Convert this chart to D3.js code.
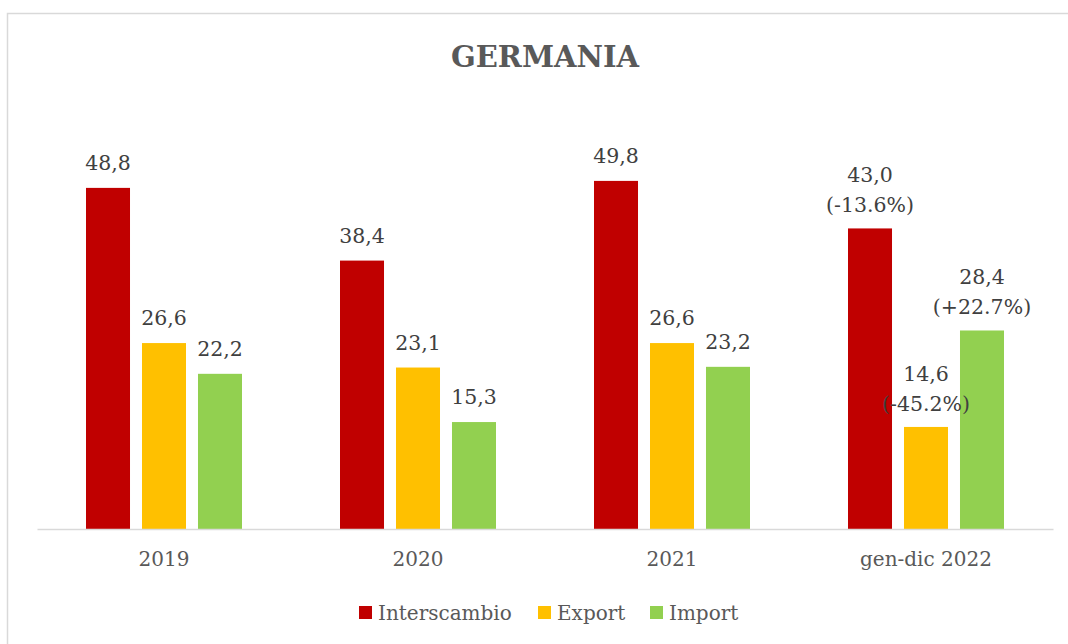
<!DOCTYPE html>
<html>
<head>
<meta charset="utf-8">
<script src="https://cdn.jsdelivr.net/npm/d3@7"></script>
<style>
	body { margin: 0; background: #fff; }
	svg { display: block; font-family: "DejaVu Serif", serif; }
</style>
</head>
<body>
<svg id="chart" width="1068" height="644"></svg>
<script>
// data
const categories = ["2019", "2020", "2021", "gen-dic 2022"];
const series = ["Interscambio", "Export", "Import"];
const interscambio = [48.8, 38.4, 49.8, 43.0];
const exportVals = [26.6, 23.1, 26.6, 14.6];
const importVals = [22.2, 15.3, 23.2, 28.4];
// variations shown only for the last period
const interscambioVar = [null, null, null, "(-13.6%)"];
const exportVar = [null, null, null, "(-45.2%)"];
const importVar = [null, null, null, "(+22.7%)"];
const colors = ["#c00000", "#ffc000", "#92d050"];

const values = [interscambio, exportVals, importVals];
const variations = [interscambioVar, exportVar, importVar];

const svg = d3.select("#chart");
const fmt = (v) => v.toFixed(1).replace(".", ",");

// outer frame (only top/left edges fall inside the picture)
svg.append("rect")
	.attr("x", 7.5).attr("y", 13.5)
	.attr("width", 1100).attr("height", 700)
	.attr("fill", "none").attr("stroke", "#d9d9d9").attr("stroke-width", 1.5);

svg.append("text")
	.attr("x", 545).attr("y", 67)
	.attr("text-anchor", "middle")
	.attr("font-size", 29).attr("font-weight", "bold")
	.attr("fill", "#595959")
	.text("GERMANIA");

const baseY = 529;
const x0 = d3.scaleBand().domain(categories).range([37, 1053]);
const x1 = d3.scaleBand().domain(series).range([-78, 78]).paddingInner(0.214);
const y = d3.scaleLinear().domain([0, 60]).range([baseY, baseY - 60 * 6.99]);

const rows = [];
categories.forEach((c, i) => {
	series.forEach((s, j) => {
		rows.push({ cat: c, ser: s, value: values[j][i], variation: variations[j][i], color: colors[j] });
	});
});

const cx = (d) => x0(d.cat) + x0.bandwidth() / 2 + x1(d.ser);

svg.selectAll(".bar")
	.data(rows)
	.enter()
	.append("rect")
	.classed("bar", true)
	.attr("x", cx)
	.attr("y", (d) => y(d.value))
	.attr("width", x1.bandwidth())
	.attr("height", (d) => baseY - y(d.value))
	.attr("fill", (d) => d.color);

// value labels
const lab = svg.selectAll(".lab")
	.data(rows)
	.enter()
	.append("text")
	.classed("lab", true)
	.attr("text-anchor", "middle")
	.attr("font-size", 20.5)
	.attr("fill", "#404040")
	.attr("x", (d) => cx(d) + x1.bandwidth() / 2)
	.attr("y", (d) => y(d.value) - (d.variation ? 46 : 18));
lab.append("tspan").text((d) => fmt(d.value));
lab.filter((d) => d.variation)
	.append("tspan")
	.attr("x", (d) => cx(d) + x1.bandwidth() / 2)
	.attr("dy", 30)
	.text((d) => d.variation);

// x axis
const xAxis = svg.append("g")
	.attr("transform", `translate(0, ${baseY})`)
	.call(d3.axisBottom(x0).tickSize(0).tickPadding(23));
xAxis.select(".domain").attr("stroke", "#d9d9d9").attr("stroke-width", 1.5);
xAxis.selectAll("text")
	.attr("font-family", "DejaVu Serif, serif")
	.attr("font-size", 20)
	.attr("fill", "#595959");

// legend
const legendX = [359, 538, 650];
const legend = svg.selectAll(".leg")
	.data(series)
	.enter()
	.append("g")
	.classed("leg", true)
	.attr("transform", (d, i) => `translate(${legendX[i]}, 606)`);
legend.append("rect")
	.attr("width", 13).attr("height", 13)
	.attr("fill", (d, i) => colors[i]);
legend.append("text")
	.attr("x", 19).attr("y", 14)
	.attr("font-size", 20)
	.attr("fill", "#595959")
	.text((d) => d);
</script>
</body>
</html>
